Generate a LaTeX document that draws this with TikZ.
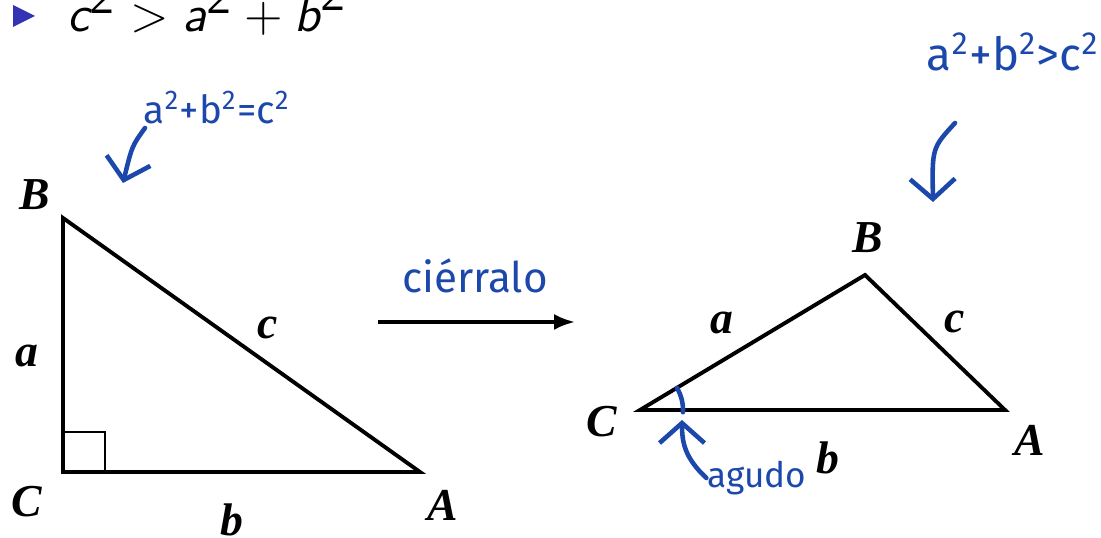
\documentclass[tikz,border=0pt]{standalone}
\usepackage{fontspec}
\setmainfont{Liberation Serif}
\newfontfamily\handfont{Fira Sans}
\usetikzlibrary{arrows.meta,positioning,calc}
\definecolor{handblue}{RGB}{28,72,172}
\definecolor{bulletblue}{RGB}{51,51,179}
\tikzset{every picture/.style={line width=0.75pt}}

\begin{document}
\begin{tikzpicture}[scale=1.0,
    lbl/.style={font=\fontsize{13}{15}\selectfont\bfseries\itshape, inner sep=0pt},
    hand/.style={handblue, inner sep=0pt, font=\handfont\fontsize{12}{14}\selectfont},
    handarrow/.style={handblue, line width=1.3pt, line cap=round,
      -{Straight Barb[length=2mm,width=4.5mm]}}]
    \useasboundingbox (0,0) rectangle (11.01,5.38);

    % viñeta
    \fill[bulletblue] (0.13,5.33) -- (0.35,5.22) -- (0.13,5.11) -- cycle;
    \node[anchor=base west, inner sep=0pt, font=\fontsize{14.5}{16}\selectfont] (ineq) at (0.66,5.06)
        {$\textsf{\itshape c}^{\textsf{2}} > \textsf{\itshape a}^{\textsf{2}} + \textsf{\itshape b}^{\textsf{2}}$};

    % triángulo rectángulo
    \coordinate (B1) at (0.63,3.20);
    \coordinate (C1) at (0.63,0.66);
    \coordinate (A1) at (4.20,0.66);
    \draw[line width=1.1pt] (B1) -- (C1) -- (A1) -- cycle;
    \draw[line width=0.6pt] ($(C1)+(0,0.40)$) -- ++(0.42,0) -- ++(0,-0.40);
    \node[lbl] (B1lbl) at (0.35,3.43) {B};
    \node[lbl] (C1lbl) at (0.27,0.36) {C};
    \node[lbl] (A1lbl) at (4.43,0.33) {A};
    \node[lbl] (a1lbl) at (0.27,1.82) {a};
    \node[lbl] (c1lbl) at (2.68,2.10) {c};
    \node[lbl] (b1lbl) at (2.32,0.18) {b};

    % flecha
    \coordinate (arrS) at (3.78,2.16);
    \coordinate (arrE) at (5.75,2.16);
    \draw[line width=1pt, -{Latex[length=2.1mm,width=1.6mm]}] (arrS) -- (arrE);
    \node[hand] (close) at (4.75,2.62) {ciérralo};

    % triángulo acutángulo
    \coordinate (C2) at (6.40,1.28);
    \coordinate (B2) at (8.65,2.63);
    \coordinate (A2) at (10.05,1.28);
    \draw[line width=1.1pt] (C2) -- (B2) -- (A2) -- cycle;
    \node[lbl] (B2lbl) at (8.68,3.00) {B};
    \node[lbl] (C2lbl) at (6.02,1.16) {C};
    \node[lbl] (A2lbl) at (10.30,0.98) {A};
    \node[lbl] (a2lbl) at (7.22,2.15) {a};
    \node[lbl] (c2lbl) at (9.55,2.16) {c};
    \node[lbl] (b2lbl) at (8.28,0.80) {b};

    % anotaciones
    \node[hand, font=\handfont\fontsize{11}{13}\selectfont] (pit) at (2.17,4.30)
        {a\textsuperscript{2}+b\textsuperscript{2}=c\textsuperscript{2}};
    \coordinate (pitS) at (1.45,4.10);
    \coordinate (pitE) at (1.23,3.55);
    \draw[handarrow] (pitS) .. controls (1.32,3.92) .. (pitE);

    \node[hand, font=\handfont\fontsize{13}{15}\selectfont] (acu) at (10.13,4.86)
        {a\textsuperscript{2}+b\textsuperscript{2}>c\textsuperscript{2}};
    \coordinate (acuS) at (9.55,4.15);
    \coordinate (acuE) at (9.33,3.36);
    \draw[handarrow] (acuS) .. controls (9.32,3.90) .. (acuE);

    \draw[handblue, line width=1.3pt, line cap=round] ($(C2)+(31:0.43)$) arc[start angle=31, end angle=-3, radius=0.43];
    \node[hand, font=\handfont\fontsize{10}{12}\selectfont] (agudo) at (7.57,0.60) {agudo};
    \coordinate (agudoE) at (6.82,1.18);
    \draw[handarrow] (agudo.west) .. controls (6.85,0.80) and (6.82,0.95) .. (agudoE);
\end{tikzpicture}
\end{document}
